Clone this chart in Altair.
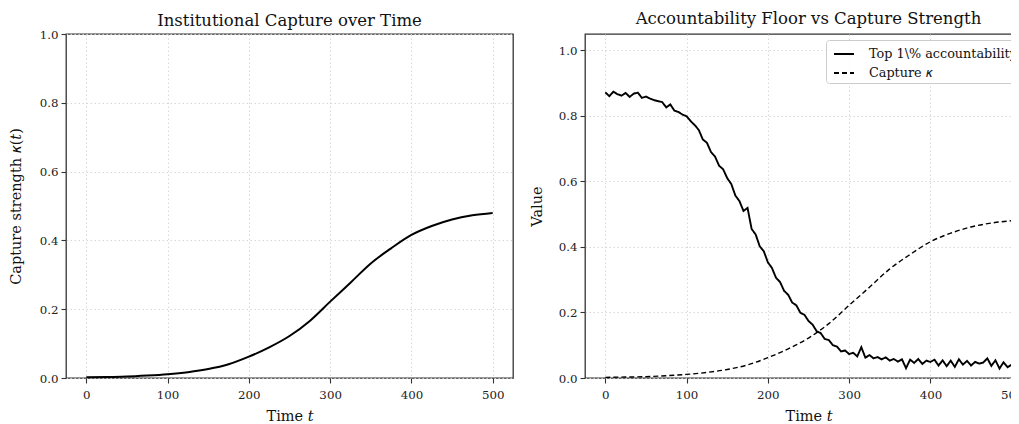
import altair as alt
import pandas as pd

# ---- data ----
cap_t = [0, 25, 50, 75, 100, 125, 150, 175, 200, 225, 250, 275, 300,
         325, 350, 375, 400, 425, 450, 475, 500]
cap_k = [0.002, 0.003, 0.004, 0.007, 0.011, 0.017, 0.026, 0.040, 0.062,
         0.089, 0.122, 0.166, 0.222, 0.277, 0.333, 0.377, 0.416, 0.442,
         0.461, 0.473, 0.480]

acc_t = list(range(0, 505, 5))
acc_v = [0.872, 0.860, 0.874, 0.866, 0.862, 0.870, 0.858, 0.868, 0.871, 0.855,
         0.859, 0.853, 0.848, 0.845, 0.842, 0.826, 0.835, 0.816, 0.812, 0.804,
         0.799, 0.784, 0.772, 0.757, 0.728, 0.718, 0.690, 0.676, 0.648, 0.637,
         0.610, 0.592, 0.557, 0.540, 0.510, 0.519, 0.455, 0.438, 0.402, 0.387,
         0.353, 0.336, 0.306, 0.293, 0.266, 0.254, 0.230, 0.222, 0.199, 0.193,
         0.174, 0.163, 0.143, 0.137, 0.119, 0.116, 0.100, 0.096, 0.081, 0.084,
         0.073, 0.077, 0.066, 0.094, 0.062, 0.070, 0.060, 0.064, 0.057, 0.063,
         0.053, 0.058, 0.050, 0.057, 0.030, 0.056, 0.046, 0.058, 0.043, 0.053,
         0.049, 0.056, 0.038, 0.054, 0.036, 0.053, 0.034, 0.057, 0.041, 0.052,
         0.038, 0.049, 0.044, 0.047, 0.060, 0.037, 0.054, 0.029, 0.048, 0.033,
         0.041]

series_acc = "Top 1\\% accountability"
series_cap = "Capture 𝜅"

x_ticks = [0, 100, 200, 300, 400, 500]
y_ticks = [0.0, 0.2, 0.4, 0.6, 0.8, 1.0]

cap_df = pd.DataFrame({"t": cap_t, "v": cap_k, "series": series_cap})
acc_df = pd.DataFrame({"t": acc_t, "v": acc_v, "series": series_acc})
both_df = pd.concat([acc_df, cap_df], ignore_index=True)

FONT = "DejaVu Serif"
W, H = 447, 344

def xax():
    return alt.X("t:Q", scale=alt.Scale(domain=[-25, 525], nice=False, zero=False),
                 axis=alt.Axis(values=x_ticks, format="d", title="Time 𝑡",
                               labelPadding=6, titlePadding=9))

# ---- left panel ----
left = alt.Chart(cap_df).mark_line(color="black", strokeWidth=2, interpolate="monotone").encode(
    x=xax(),
    y=alt.Y("v:Q", scale=alt.Scale(domain=[0, 1.0], nice=False),
            axis=alt.Axis(values=y_ticks, format=".1f", title="Capture strength 𝜅(𝑡)",
                          titlePadding=16)),
).properties(width=W, height=H,
             title=alt.TitleParams("Institutional Capture over Time", offset=0))

# ---- right panel ----
dash = alt.StrokeDash(
    "series:N",
    scale=alt.Scale(domain=[series_acc, series_cap], range=[[1, 0], [5, 3]]),
    legend=alt.Legend(title=None, orient="none", legendX=760, legendY=6,
                      symbolType="stroke", symbolSize=400, symbolStrokeColor="black",
                      symbolStrokeWidth=1.8, symbolOffset=4,
                      labelFont=FONT, labelFontSize=12.8,
                      labelColor="#111", labelOffset=14, rowPadding=1,
                      padding=3, fillColor="rgba(255,255,255,0.85)",
                      strokeColor="#cccccc", cornerRadius=3),
)

yr = alt.Y("v:Q", scale=alt.Scale(domain=[0, 1.05], nice=False),
           axis=alt.Axis(values=y_ticks, format=".1f", title="Value", titlePadding=14))

acc_line = alt.Chart(both_df).transform_filter(
    alt.datum.series == series_acc
).mark_line(color="black", strokeWidth=1.9).encode(x=xax(), y=yr, strokeDash=dash)

cap_line = alt.Chart(both_df).transform_filter(
    alt.datum.series == series_cap
).mark_line(color="black", strokeWidth=1.4, interpolate="monotone").encode(
    x=xax(), y=yr, strokeDash=dash)

right = alt.layer(acc_line, cap_line).properties(
    width=W, height=H,
    title=alt.TitleParams("Accountability Floor vs Capture Strength", offset=7))

chart = alt.hconcat(left, right, spacing=14).properties(
    autosize=alt.AutoSizeParams(type="none"),
    padding={"left": 58, "top": 26, "right": 945, "bottom": 390}
).configure(font=FONT).configure_view(
    stroke="#333333", strokeWidth=1.3
).configure_axis(
    labelFont=FONT, titleFont=FONT, labelFontSize=11.8, titleFontSize=14.5,
    labelColor="#222", titleColor="#111", titleFontWeight="normal",
    domain=False, tickColor="#333", tickSize=5, tickWidth=1.1,
    labelPadding=3,
    grid=True, gridColor="#d4d4d4", gridDash=[1.5, 2.5], gridWidth=0.9,
).configure_title(
    font=FONT, fontSize=16.5, fontWeight="normal", color="#111"
)

chart.save("out.html", embed_options={"renderer": "svg", "actions": False})
